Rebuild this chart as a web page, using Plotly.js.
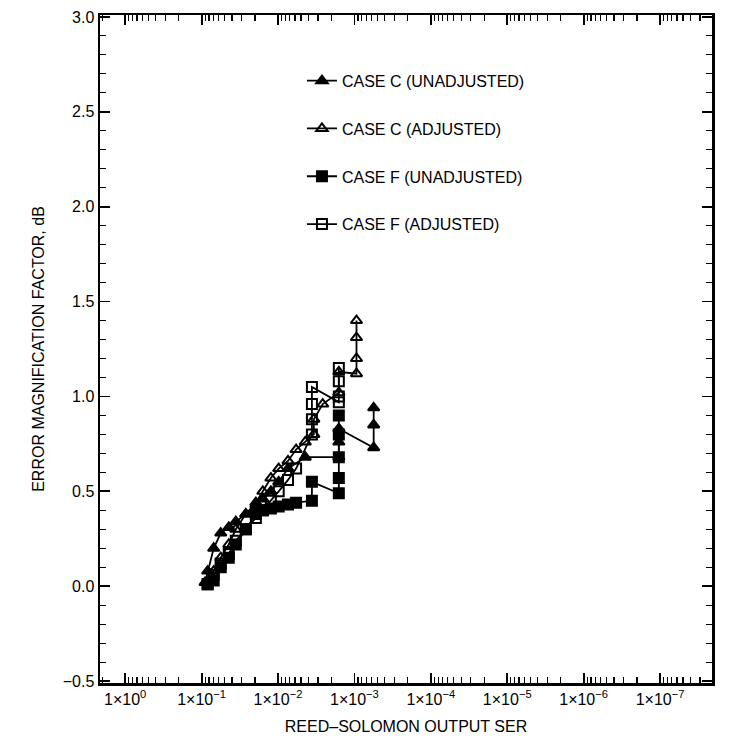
<!DOCTYPE html>
<html>
<head>
<meta charset="utf-8">
<script src="https://cdn.plot.ly/plotly-3.0.1.min.js"></script>
<style>html,body{margin:0;padding:0;background:#fff}#chart{width:729px;height:749px}</style>
</head>
<body>
<div id="chart"></div>
<script>
// Values (SER decreases to the right)
const cUnadjX = [0.00056, 0.00056, 0.00056, 0.0016, 0.0016, 0.0016, 0.0044, 0.0074, 0.0098, 0.0124, 0.0158, 0.0195, 0.0264, 0.0357, 0.0441, 0.0562, 0.0695, 0.0834, 0.09];
const cUnadjY = [0.94, 0.85, 0.73, 0.83, 0.76, 0.68, 0.68, 0.62, 0.55, 0.50, 0.46, 0.43, 0.38, 0.34, 0.31, 0.28, 0.20, 0.08, 0.02];

const cAdjX = [0.00094, 0.00094, 0.00094, 0.00094, 0.0016, 0.0016, 0.0026, 0.0034, 0.0034, 0.0044, 0.0058, 0.0074, 0.0098, 0.0124, 0.0158, 0.0195, 0.0264, 0.0357, 0.0441, 0.0562, 0.0695, 0.0834];
const cAdjY = [1.40, 1.31, 1.20, 1.12, 1.13, 1.02, 0.96, 0.88, 0.80, 0.76, 0.72, 0.66, 0.62, 0.57, 0.50, 0.44, 0.38, 0.30, 0.22, 0.15, 0.08, 0.02];

const fUnadjX = [0.0016, 0.0016, 0.0016, 0.0016, 0.0016, 0.0036, 0.0036, 0.0058, 0.0074, 0.0098, 0.0124, 0.0158, 0.0195, 0.0264, 0.0357, 0.0441, 0.0562, 0.0695, 0.0834];
const fUnadjY = [0.90, 0.80, 0.68, 0.57, 0.49, 0.55, 0.45, 0.44, 0.43, 0.42, 0.41, 0.40, 0.38, 0.30, 0.22, 0.15, 0.10, 0.03, 0.01];

const fAdjX = [0.0016, 0.0016, 0.0016, 0.0016, 0.0036, 0.0036, 0.0036, 0.0036, 0.0058, 0.0074, 0.0098, 0.0124, 0.0158, 0.0195, 0.0264, 0.0357, 0.0441, 0.0562, 0.0695, 0.0834];
const fAdjY = [1.15, 1.08, 1.00, 0.97, 1.05, 0.96, 0.88, 0.80, 0.62, 0.56, 0.50, 0.45, 0.40, 0.36, 0.30, 0.24, 0.17, 0.12, 0.06, 0.01];

const tickVals = [1, 1e-1, 1e-2, 1e-3, 1e-4, 1e-5, 1e-6, 1e-7];
const tickText = ['1×10<sup>0</sup>', '1×10<sup>−1</sup>', '1×10<sup>−2</sup>', '1×10<sup>−3</sup>',
  '1×10<sup>−4</sup>', '1×10<sup>−5</sup>', '1×10<sup>−6</sup>', '1×10<sup>−7</sup>'];

const FONT = "'Liberation Sans', Arial, sans-serif";

function series(name, x, y, symbol, group) {
  return {
    type: 'scatter', mode: 'lines+markers', name: name, x: x, y: y,
    legendgroup: group,
    line: { color: '#000', width: 1.8 },
    marker: { symbol: symbol, size: 10, color: '#000', line: { color: '#000', width: 2 } },
  };
}

const traces = [
  series('CASE C (UNADJUSTED)', cUnadjX, cUnadjY, 'triangle-up', 'a'),
  series('CASE C (ADJUSTED)', cAdjX, cAdjY, 'triangle-up-open', 'b'),
  series('CASE F (UNADJUSTED)', fUnadjX, fUnadjY, 'square', 'c'),
  series('CASE F (ADJUSTED)', fAdjX, fAdjY, 'square-open', 'd'),
];

const axisCommon = {
  showline: true, linecolor: '#000', linewidth: 2.5, mirror: 'ticks',
  ticks: 'inside', ticklen: 10, tickwidth: 1.8, tickcolor: '#000',
  showgrid: false, zeroline: false,
  tickfont: { family: FONT, size: 16, color: '#000' },
};

const layout = {
  width: 729, height: 749,
  margin: { l: 100, r: 17, t: 15, b: 66 },
  paper_bgcolor: '#fff', plot_bgcolor: '#fff',
  font: { family: FONT, color: '#000' },
  xaxis: Object.assign({}, axisCommon, {
    type: 'log', range: [0.33, -7.68],
    tickvals: tickVals, ticktext: tickText,
    minor: { dtick: 'D1', ticks: 'inside', ticklen: 6, tickcolor: '#000', tickwidth: 1.2 },
    title: { text: 'REED–SOLOMON OUTPUT SER', font: { family: FONT, size: 16, color: '#000' }, standoff: 14 },
  }),
  yaxis: Object.assign({}, axisCommon, {
    range: [-0.51, 3.01], dtick: 0.5, tickformat: '.1f',
    minor: { dtick: 0.1, ticks: 'inside', ticklen: 6, tickcolor: '#000', tickwidth: 1.2 },
    title: { text: 'ERROR MAGNIFICATION FACTOR, dB', font: { family: FONT, size: 16, color: '#000' }, standoff: 14 },
  }),
  showlegend: true,
  legend: {
    x: 0.33, y: 0.927, xanchor: 'left', yanchor: 'top',
    bgcolor: 'rgba(0,0,0,0)', tracegroupgap: 24,
    font: { family: FONT, size: 16, color: '#000' },
  },
};

Plotly.newPlot('chart', traces, layout, { displayModeBar: false, staticPlot: true });
</script>
</body>
</html>
